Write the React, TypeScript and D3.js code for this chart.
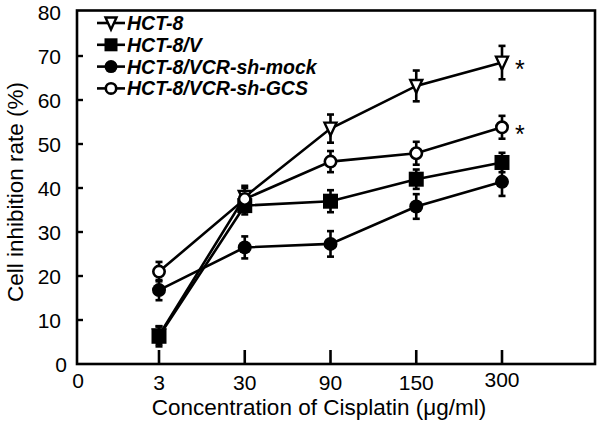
import React from "react";
import * as d3 from "d3";

const categories = ["3", "30", "90", "150", "300"];
const seriesNames = ["HCT-8", "HCT-8/V", "HCT-8/VCR-sh-mock", "HCT-8/VCR-sh-GCS"];
const hct8 = [6.5, 38, 53.5, 63.2, 68.5];
const hct8Err = [2, 2.5, 3.2, 3.5, 3.8];
const hct8V = [6.3, 36, 37, 42, 45.8];
const hct8VErr = [2.3, 2, 2.5, 2.2, 2.2];
const mock = [16.8, 26.5, 27.3, 35.8, 41.4];
const mockErr = [2.3, 2.5, 2.9, 2.8, 3.2];
const gcs = [21, 37.5, 46, 47.9, 53.8];
const gcsErr = [2.2, 2.5, 2.4, 2.6, 2.6];
const yTicks = [0, 10, 20, 30, 40, 50, 60, 70, 80];
const starred = [0, 3]; // series with significance asterisk at last point

const W = 600, H = 423;
const L = 77, R = 595, T = 10.5, B = 364;
const FONT = "'Liberation Sans', Arial, Helvetica, sans-serif";

const x = d3.scaleLinear().domain([0, 4]).range([159, 502]);
const y = d3.scaleLinear().domain([0, 80]).range([B, 12]);

type Kind = "tri" | "square" | "dot" | "ring";
const kinds: Kind[] = ["tri", "square", "dot", "ring"];
const values = [hct8, hct8V, mock, gcs];
const errs = [hct8Err, hct8VErr, mockErr, gcsErr];

function Marker({ kind, cx, cy, s }: { kind: Kind; cx: number; cy: number; s: number }) {
  if (kind === "square")
    return <rect x={cx - s / 2} y={cy - s / 2} width={s} height={s} fill="#000" />;
  if (kind === "dot") return <circle cx={cx} cy={cy} r={s / 2} fill="#000" />;
  if (kind === "ring")
    return <circle cx={cx} cy={cy} r={s / 2 - 1.3} fill="#fff" stroke="#000" strokeWidth={2.6} />;
  const h = s * 0.85;
  const p = d3.path();
  p.moveTo(cx - s / 2 + 1, cy - h / 2);
  p.lineTo(cx + s / 2 - 1, cy - h / 2);
  p.lineTo(cx, cy + h / 2 + 1);
  p.closePath();
  return <path d={p.toString()} fill="#fff" stroke="#000" strokeWidth={2.4} strokeLinejoin="miter" />;
}

export default function App() {
  const line = d3
    .line<number>()
    .x((_, i) => x(i))
    .y((d) => y(d));

  return (
    <svg width={W} height={H} style={{ position: "absolute", left: 0, top: 0, background: "#fff" }} fontFamily={FONT}>
      <rect x={0} y={0} width={W} height={H} fill="#fff" />
      {/* frame */}
      <rect x={L} y={T} width={R - L} height={B - T} fill="none" stroke="#000" strokeWidth={2.6} />
      {/* y ticks */}
      {yTicks.map((t) => (
        <g key={t}>
          {t > 0 && t < 80 && <line x1={L} x2={L + 6} y1={y(t)} y2={y(t)} stroke="#000" strokeWidth={2.4} />}
          <text x={t === 0 ? 67 : 61} y={y(t)} dy="0.36em" textAnchor="end" fontSize={21} fill="#000">
            {t}
          </text>
        </g>
      ))}
      {/* x ticks */}
      <text x={L + 1} y={380} dy="0.36em" textAnchor="middle" fontSize={21} fill="#000">0</text>
      {categories.map((c, i) => (
        <g key={c}>
          <line x1={x(i)} x2={x(i)} y1={B} y2={B - 14} stroke="#000" strokeWidth={2.6} />
          <text x={x(i)} y={i === 4 ? 379 : 382} dy="0.36em" textAnchor="middle" fontSize={21} fill="#000">
            {c}
          </text>
        </g>
      ))}
      {/* axis titles */}
      <text x={319} y={415} textAnchor="middle" fontSize={22.5} fill="#000">
        Concentration of Cisplatin (μg/ml)
      </text>
      <text transform={`translate(23,192) rotate(-90)`} textAnchor="middle" fontSize={22.5} fill="#000">
        Cell inhibition rate (%)
      </text>
      {/* lines */}
      {values.map((v, si) => (
        <path key={"l" + si} d={line(v) || ""} fill="none" stroke="#000" strokeWidth={2.6} />
      ))}
      {/* error bars */}
      {values.map((v, si) =>
        v.map((d, i) => {
          const e = errs[si][i];
          const cx = x(i);
          return (
            <g key={`e${si}-${i}`} stroke="#000" strokeWidth={2.6}>
              <line x1={cx} x2={cx} y1={y(d + e)} y2={y(d - e)} />
              <line x1={cx - 3.5} x2={cx + 3.5} y1={y(d + e)} y2={y(d + e)} />
              <line x1={cx - 3.5} x2={cx + 3.5} y1={y(d - e)} y2={y(d - e)} />
            </g>
          );
        })
      )}
      {/* markers */}
      {values.map((v, si) =>
        v.map((d, i) => (
          <Marker key={`m${si}-${i}`} kind={kinds[si]} cx={x(i)} cy={y(d)} s={si === 1 ? 15 : 14} />
        ))
      )}
      {/* asterisks */}
      {starred.map((si) => (
        <text key={"s" + si} x={x(4) + 13} y={y(values[si][4])} dy="0.62em" fontSize={25} fill="#000">
          *
        </text>
      ))}
      {/* legend */}
      {seriesNames.map((n, i) => {
        const ly = 23 + i * 21.8;
        return (
          <g key={n}>
            <line x1={97} x2={125} y1={ly} y2={ly} stroke="#000" strokeWidth={2.6} />
            <Marker kind={kinds[i]} cx={111} cy={ly} s={13} />
            <text x={127} y={ly} dy="0.36em" fontSize={19.5} fontWeight="bold" fontStyle="italic" fill="#000">
              {n}
            </text>
          </g>
        );
      })}
    </svg>
  );
}
